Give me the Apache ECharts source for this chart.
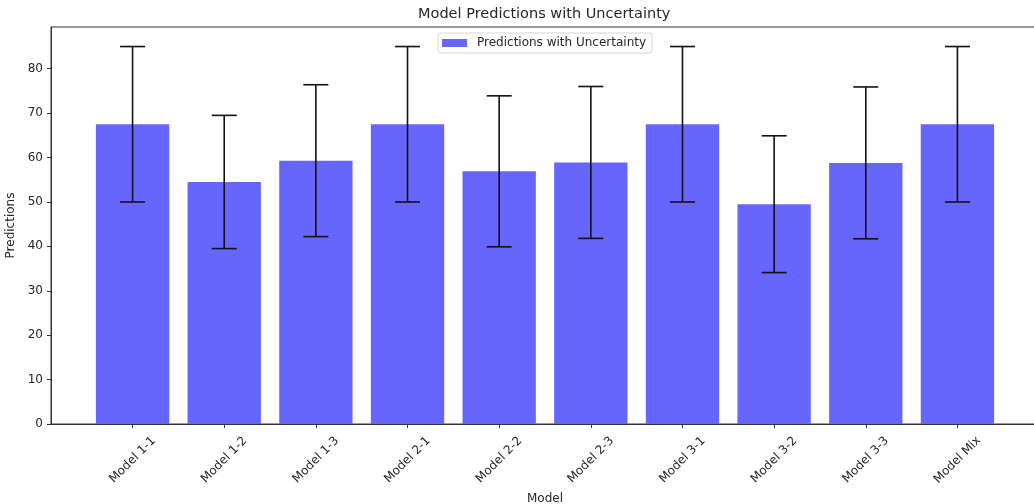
<!DOCTYPE html>
<html>
<head>
<meta charset="utf-8">
<script src="https://cdn.jsdelivr.net/npm/echarts@6/dist/echarts.min.js"></script>
<style>
html,body{margin:0;padding:0;background:#fff;}
#chart{width:1034px;height:504px;}
</style>
</head>
<body>
<div id="chart"></div>
<script>
const categories = ['Model 1-1','Model 1-2','Model 1-3','Model 2-1','Model 2-2','Model 2-3','Model 3-1','Model 3-2','Model 3-3','Model Mix'];
const predictions = [67.5, 54.5, 59.3, 67.5, 56.9, 58.9, 67.5, 49.5, 58.8, 67.5];
const uncertainty = [17.5, 15.0, 17.1, 17.5, 17.0, 17.1, 17.5, 15.4, 17.1, 17.5];
const yTicks = [0, 10, 20, 30, 40, 50, 60, 70, 80];
const xTicks = [0, 1, 2, 3, 4, 5, 6, 7, 8, 9];

const FONT = 'DejaVu Sans';
const TXT = '#262626';

const barData = predictions.map((v, i) => [i, v]);
const errData = predictions.map((v, i) => [i, v - uncertainty[i], v + uncertainty[i]]);

const chart = echarts.init(document.getElementById('chart'), null, {renderer: 'canvas'});
chart.setOption({
  animation: false,
  backgroundColor: '#fff',
  title: {
    text: 'Model Predictions with Uncertainty',
    left: 418, top: 7, padding: 0,
    textStyle: {fontFamily: FONT, fontSize: 14.5, fontWeight: 'normal', color: TXT}
  },
  legend: {
    data: ['Predictions with Uncertainty'],
    left: 438, top: 33,
    padding: [4, 6, 4, 4],
    icon: 'rect', itemWidth: 25, itemHeight: 8,
    borderColor: '#d6d6d6', borderWidth: 1, borderRadius: 3,
    backgroundColor: 'rgba(255,255,255,0.85)',
    textStyle: {fontFamily: FONT, fontSize: 12, color: TXT, padding: [0, 0, 0, 5]}
  },
  grid: {left: 51, top: 27, width: 988, height: 397, show: true, borderColor: '#333', borderWidth: 1, containLabel: false, outerBoundsMode: 'none'},
  xAxis: {
    type: 'value', min: -0.89, max: 9.89,
    name: 'Model', nameLocation: 'middle', nameGap: 66,
    nameTextStyle: {fontFamily: FONT, fontSize: 12, color: TXT},
    splitLine: {show: false},
    axisLine: {show: true, onZero: false, lineStyle: {color: '#333', width: 1}},
    axisTick: {show: true, length: 4, customValues: xTicks, lineStyle: {color: '#333'}},
    axisLabel: {
      customValues: xTicks, rotate: 45, align: 'center', verticalAlign: 'middle', margin: 36,
      fontFamily: FONT, fontSize: 12, color: TXT,
      formatter: v => categories[Math.round(v)]
    }
  },
  yAxis: {
    type: 'value', min: 0, max: 89.4,
    name: 'Predictions', nameLocation: 'middle', nameGap: 29,
    nameTextStyle: {fontFamily: FONT, fontSize: 12, color: TXT},
    splitLine: {show: false},
    axisLine: {show: true, onZero: false, lineStyle: {color: '#333', width: 1}},
    axisTick: {show: true, length: 4, customValues: yTicks, lineStyle: {color: '#333'}},
    axisLabel: {customValues: yTicks, margin: 8, fontFamily: FONT, fontSize: 12, color: TXT}
  },
  series: [
    {
      name: 'Predictions with Uncertainty',
      type: 'bar',
      data: barData,
      barWidth: '80%',
      itemStyle: {color: '#6666ff'}
    },
    {
      name: 'errors',
      type: 'custom',
      data: errData,
      encode: {x: 0, y: [1, 2]},
      z: 5,
      renderItem: function (params, api) {
        const x = api.value(0);
        const lo = api.coord([x, api.value(1)]);
        const hi = api.coord([x, api.value(2)]);
        const cap = 12.5;
        const style = {stroke: '#111', lineWidth: 1.6};
        return {
          type: 'group',
          children: [
            {type: 'line', shape: {x1: hi[0], y1: hi[1], x2: lo[0], y2: lo[1]}, style: style},
            {type: 'line', shape: {x1: hi[0] - cap, y1: hi[1], x2: hi[0] + cap, y2: hi[1]}, style: style},
            {type: 'line', shape: {x1: lo[0] - cap, y1: lo[1], x2: lo[0] + cap, y2: lo[1]}, style: style}
          ]
        };
      }
    }
  ]
});
</script>
</body>
</html>
